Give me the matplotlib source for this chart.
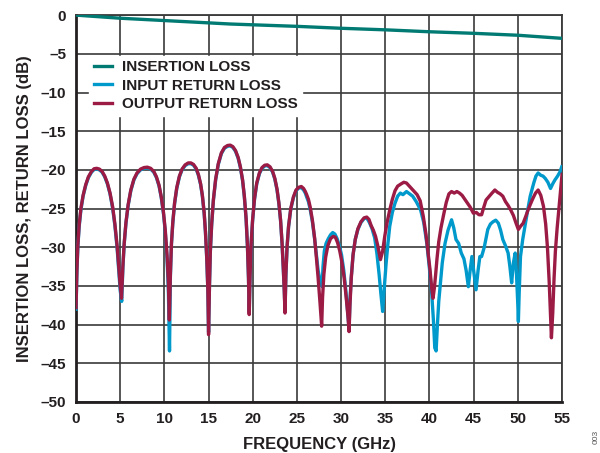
import matplotlib
matplotlib.use("Agg")
import matplotlib.pyplot as plt

plt.rcParams['font.family'] = ['Liberation Sans', 'DejaVu Sans']
plt.rcParams['font.weight'] = 'bold'

# Insertion loss
il_freq = [0, 5, 10, 15, 17.5, 20, 25, 30, 35, 40, 45, 50, 55]
il_db = [0, -0.4, -0.7, -1.0, -1.15, -1.25, -1.45, -1.7, -1.9, -2.15, -2.35, -2.6, -3.0]

# Output return loss
out_freq = [0, 0.1, 0.2, 0.35, 0.55, 0.8, 1.1, 1.4, 1.75, 2.05, 2.35, 2.65, 2.95, 3.25, 3.55, 3.85, 4.15, 4.4, 4.65, 4.85, 5.0, 5.15,
            5.3, 5.45, 5.65, 5.9, 6.2, 6.55, 6.9, 7.3, 7.7, 8.07, 8.45, 8.8, 9.1, 9.4, 9.65, 9.9, 10.1, 10.3, 10.45, 10.56,
            10.68, 10.8, 10.95, 11.15, 11.4, 11.7, 12.0, 12.35, 12.7, 13.0, 13.3, 13.6, 13.85, 14.1, 14.3, 14.5, 14.65, 14.8, 14.92, 15.0,
            15.1, 15.2, 15.35, 15.55, 15.8, 16.1, 16.45, 16.8, 17.15, 17.45, 17.75, 18.05, 18.35, 18.6, 18.85, 19.05, 19.25, 19.4, 19.52, 19.6,
            19.7, 19.82, 19.98, 20.2, 20.45, 20.75, 21.05, 21.35, 21.65, 21.95, 22.25, 22.5, 22.75, 22.95, 23.15, 23.32, 23.47, 23.57, 23.65,
            23.75, 23.88, 24.05, 24.3, 24.6, 24.9, 25.2, 25.5, 25.75, 25.95, 26.1, 26.3, 26.5, 26.75, 27.0, 27.2, 27.4, 27.6, 27.8,
            27.9, 28.05, 28.25, 28.5, 28.8, 29.1, 29.35, 29.6, 29.85, 30.1, 30.35, 30.6, 30.78, 30.9,
            31.0, 31.15, 31.35, 31.6, 31.9, 32.25, 32.6, 32.9, 33.15, 33.4, 33.65, 33.9, 34.15, 34.45,
            34.7, 34.95, 35.2, 35.5, 35.8, 36.1, 36.4, 36.8, 37.1, 37.4, 37.8, 38.2, 38.6, 38.95, 39.3, 39.6, 39.85, 40.06, 40.25, 40.4,
            40.55, 40.7, 40.85, 41.05, 41.3, 41.6, 41.9, 42.2, 42.5, 42.8, 43.1, 43.4, 43.7, 44.0, 44.3, 44.6, 44.97, 45.3, 45.6, 45.9,
            46.1, 46.4, 46.7, 47.0, 47.4, 47.7, 48.0, 48.3, 48.6, 48.9, 49.2, 49.5, 49.8, 50.06, 50.3, 50.6, 50.9, 51.15, 51.4, 51.7,
            52.0, 52.3, 52.6, 52.9, 53.15, 53.35, 53.55, 53.7, 53.8, 53.95, 54.1, 54.25, 54.45, 54.65, 54.85, 55.0]
out_db = [-37.8, -33.0, -29.9, -27.2, -25.0, -23.3, -21.9, -20.9, -20.2, -19.85, -19.8, -19.9, -20.2, -20.8, -21.7, -23.0, -24.8, -27.0, -29.8, -32.8, -35.0, -36.6,
          -32.5, -29.5, -26.8, -24.5, -22.6, -21.2, -20.4, -19.9, -19.7, -19.65, -19.8, -20.2, -20.9, -22.0, -23.5, -25.5, -27.8, -31.0, -34.5, -39.4,
          -33.5, -29.5, -26.8, -24.3, -22.3, -20.8, -19.9, -19.35, -19.1, -19.1, -19.3, -19.8, -20.6, -21.8, -23.3, -25.5, -28.0, -31.5, -35.5, -41.3,
          -35.0, -30.5, -27.0, -23.8, -21.2, -19.2, -17.8, -17.1, -16.85, -16.8, -17.0, -17.5, -18.4, -19.6, -21.3, -23.4, -26.3, -29.8, -34.0, -38.7,
          -33.5, -29.5, -26.5, -23.7, -21.7, -20.4, -19.7, -19.4, -19.35, -19.6, -20.2, -21.1, -22.5, -24.2, -26.5, -29.5, -33.0, -35.8, -38.5,
          -33.5, -30.0, -27.3, -25.0, -23.5, -22.6, -22.25, -22.15, -22.4, -22.8, -23.2, -23.8, -24.8, -26.5, -28.8, -31.3, -34.0, -37.0, -40.2,
          -36.5, -33.5, -31.3, -29.8, -28.9, -28.6, -28.7, -29.4, -30.5, -32.0, -34.0, -36.8, -39.0, -40.9,
          -37.5, -34.0, -31.0, -29.0, -27.6, -26.7, -26.2, -26.1, -26.4, -27.2, -27.8, -28.6, -29.8, -31.6,
          -30.5, -28.5, -26.8, -25.2, -23.8, -22.7, -22.1, -21.8, -21.6, -21.7, -22.2, -22.7, -23.2, -24.0, -26.0, -28.3, -30.8, -32.9, -35.3, -36.6,
          -35.3, -33.5, -31.5, -29.3, -27.5, -25.8, -24.2, -23.1, -22.8, -23.0, -22.8, -23.0, -23.3, -23.8, -24.3, -24.8, -25.6, -25.5, -25.8, -25.8,
          -25.0, -23.9, -23.5, -23.1, -22.6, -22.9, -23.1, -23.4, -24.1, -24.6, -25.2, -25.9, -26.9, -27.7, -27.3, -26.9, -26.0, -25.2, -24.5, -23.7,
          -23.0, -22.6, -23.3, -24.7, -27.0, -30.0, -34.5, -39.0, -41.7, -38.5, -34.0, -30.5, -27.5, -25.0, -22.5, -20.6]

# Input return loss
in_freq = [0, 0.1, 0.2, 0.35, 0.55, 0.8, 1.1, 1.4, 1.75, 2.05, 2.35, 2.65, 2.95, 3.25, 3.55, 3.85, 4.15, 4.4, 4.65, 4.85, 5.0, 5.17,
           5.3, 5.45, 5.65, 5.9, 6.2, 6.55, 6.9, 7.3, 7.7, 8.07, 8.45, 8.8, 9.1, 9.4, 9.65, 9.9, 10.1, 10.3, 10.45, 10.58,
           10.68, 10.8, 10.95, 11.15, 11.4, 11.7, 12.0, 12.35, 12.7, 13.0, 13.3, 13.6, 13.85, 14.1, 14.3, 14.5, 14.65, 14.8, 14.92, 15.0,
           15.1, 15.2, 15.35, 15.55, 15.8, 16.1, 16.45, 16.8, 17.15, 17.45, 17.75, 18.05, 18.35, 18.6, 18.85, 19.05, 19.25, 19.4, 19.52, 19.6,
           19.7, 19.82, 19.98, 20.2, 20.45, 20.75, 21.05, 21.35, 21.65, 21.95, 22.25, 22.5, 22.75, 22.95, 23.15, 23.32, 23.47, 23.57, 23.65,
           23.75, 23.88, 24.05, 24.3, 24.6, 24.9, 25.2, 25.5, 25.75, 25.95, 26.1, 26.3, 26.5, 26.75, 27.0, 27.2, 27.4, 27.55, 27.7, 27.85,
           27.95, 28.1, 28.3, 28.55, 28.8, 29.05, 29.3, 29.55, 29.8, 30.05, 30.3, 30.55, 30.75, 30.9,
           31.0, 31.15, 31.35, 31.6, 31.9, 32.25, 32.6, 32.9, 33.2, 33.5, 33.8, 34.05, 34.3, 34.5, 34.7,
           34.9, 35.1, 35.3, 35.5, 35.8, 36.1, 36.4, 36.7, 37.0, 37.4, 37.75, 38.1, 38.5, 39.0, 39.35, 39.7, 40.0, 40.25, 40.45, 40.6, 40.75,
           40.9, 41.05, 41.2, 41.45, 41.76, 42.1, 42.5, 42.75, 43.0, 43.3, 43.6, 43.9, 44.15, 44.4, 44.6, 44.8, 45.05, 45.27, 45.5, 45.7, 45.9,
           46.2, 46.6, 46.9, 47.2, 47.5, 47.8, 48.05, 48.3, 48.6, 48.9, 49.1, 49.3, 49.5, 49.7, 49.85, 50.0, 50.06, 50.15, 50.3, 50.55, 50.8,
           51.1, 51.4, 51.8, 52.05, 52.3, 52.6, 52.85, 53.1, 53.4, 53.7, 53.95, 54.2, 54.5, 54.75, 54.97]
in_db = [-38.0, -33.2, -30.1, -27.4, -25.2, -23.4, -22.0, -21.0, -20.3, -19.95, -19.9, -20.0, -20.3, -20.9, -21.8, -23.1, -25.0, -27.2, -30.1, -33.2, -35.6, -37.0,
         -32.7, -29.6, -26.9, -24.6, -22.7, -21.3, -20.5, -20.0, -19.8, -19.75, -19.9, -20.3, -21.0, -22.1, -23.6, -25.7, -28.0, -31.5, -35.5, -43.4,
         -33.7, -29.6, -26.9, -24.4, -22.4, -20.9, -20.0, -19.45, -19.2, -19.2, -19.4, -19.9, -20.7, -21.9, -23.4, -25.6, -28.1, -31.6, -35.5, -41.0,
         -35.0, -30.6, -27.1, -23.9, -21.3, -19.3, -17.9, -17.2, -16.95, -16.9, -17.1, -17.6, -18.5, -19.7, -21.4, -23.5, -26.4, -29.9, -34.0, -38.4,
         -33.6, -29.6, -26.6, -23.8, -21.8, -20.5, -19.8, -19.5, -19.45, -19.7, -20.3, -21.2, -22.6, -24.3, -26.6, -29.6, -33.0, -35.5, -38.2,
         -33.6, -30.1, -27.4, -25.1, -23.6, -22.7, -22.35, -22.3, -22.6, -23.0, -23.5, -24.1, -25.1, -26.7, -28.9, -31.0, -33.0, -33.9, -34.0, -35.1,
         -32.5, -30.5, -29.5, -28.9, -28.4, -28.1, -28.3, -28.9, -29.8, -31.0, -33.0, -35.8, -38.5, -40.5,
         -37.0, -33.8, -31.0, -29.0, -27.7, -26.8, -26.3, -26.2, -26.8, -27.6, -28.8, -30.8, -33.5, -36.0, -38.3,
         -35.0, -32.0, -29.5, -27.3, -25.5, -24.3, -23.4, -23.0, -23.2, -22.8, -23.1, -23.4, -24.1, -25.2, -26.8, -29.5, -32.8, -35.9, -39.5, -43.0, -43.4,
         -40.0, -37.0, -35.1, -32.0, -29.5, -27.8, -26.45, -27.5, -29.0, -29.5, -30.75, -31.5, -33.0, -35.1, -33.0, -31.2, -33.5, -35.5, -33.0, -31.2, -31.2,
         -30.0, -27.7, -27.0, -26.7, -26.5, -26.9, -27.8, -29.0, -29.8, -30.75, -32.5, -34.6, -32.0, -30.75, -33.5, -37.5, -39.6, -36.0, -31.2, -29.0, -27.3,
         -25.3, -23.4, -21.7, -20.8, -20.4, -20.7, -20.8, -21.1, -21.6, -22.4, -21.8, -21.3, -20.8, -20.3, -19.6]

x_ticks = [0, 5, 10, 15, 20, 25, 30, 35, 40, 45, 50, 55]
y_ticks = [0, -5, -10, -15, -20, -25, -30, -35, -40, -45, -50]

fig = plt.figure(figsize=(6, 4.53), dpi=100)
ax = fig.add_axes([0.1267, 0.1126, 0.81, 0.854])

ax.plot(in_freq, in_db, color='#0099cc', lw=2.4, label='INPUT RETURN LOSS', zorder=3)
ax.plot(out_freq, out_db, color='#9b1b45', lw=2.4, label='OUTPUT RETURN LOSS', zorder=4)
ax.plot(il_freq, il_db, color='#007a72', lw=2.4, label='INSERTION LOSS', zorder=5)

ax.set_xlim(0, 55)
ax.set_ylim(-50, 0)
ax.set_xticks(x_ticks)
ax.set_yticks(y_ticks)
ax.set_xticklabels([str(t) for t in x_ticks])
ax.set_yticklabels(['0'] + ['\u2013' + str(-t) for t in y_ticks[1:]])
ax.tick_params(length=0, labelsize=11, pad=7, colors='#231f20')
ax.grid(True, color='#3a3a3a', lw=1.2)
for side in ['top', 'right']:
    ax.spines[side].set_linewidth(1.3)
    ax.spines[side].set_color('#3a3a3a')
for side in ['left', 'bottom']:
    ax.spines[side].set_linewidth(2.0)
    ax.spines[side].set_color('#231f20')
ax.set_axisbelow(True)

ax.set_xlabel('FREQUENCY (GHz)', fontsize=12, fontweight='bold', labelpad=8, color='#231f20')
ax.set_ylabel('INSERTION LOSS, RETURN LOSS (dB)', fontsize=12, fontweight='bold', labelpad=6, color='#231f20')

handles, labels = ax.get_legend_handles_labels()
order = [2, 0, 1]
leg = ax.legend([handles[i] for i in order], [labels[i] for i in order],
                loc='upper left', bbox_to_anchor=(0.012, 0.915), frameon=True,
                fancybox=False, edgecolor='white', framealpha=1, fontsize=11,
                handlelength=1.2, handletextpad=0.6, labelspacing=0.3, borderpad=0.3)
for t in leg.get_texts():
    t.set_color('#231f20')

fig.text(0.993, 0.035, '003', rotation=90, fontsize=6, color='#555555',
         fontweight='normal', ha='center', va='center')

fig.savefig('out.png', dpi=100)
